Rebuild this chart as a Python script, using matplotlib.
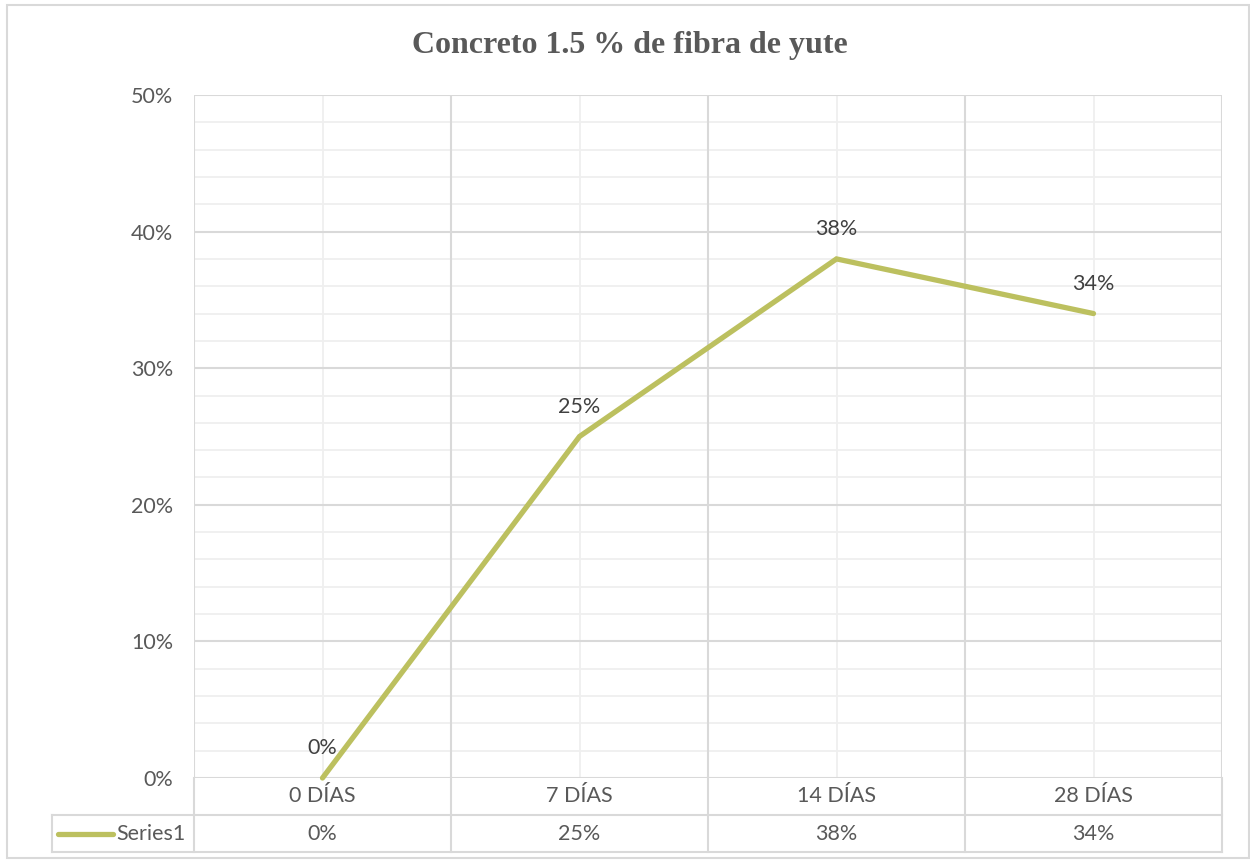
import matplotlib
matplotlib.use("Agg")
import matplotlib.pyplot as plt
from matplotlib.patches import Rectangle
from matplotlib.lines import Line2D
import matplotlib.transforms as mtransforms

# Data
categories = ["0 DÍAS", "7 DÍAS", "14 DÍAS", "28 DÍAS"]
values = [0, 25, 38, 34]          # percent
series_name = "Series1"
y_ticks = [0, 10, 20, 30, 40, 50]
title = "Concreto 1.5 % de fibra de yute"

LINE_COLOR = "#BCC05F"
GRID_MAJOR = "#D9D9D9"
GRID_MINOR = "#EFEFEF"
TEXT_GRAY = "#595959"
LABEL_GRAY = "#404040"
FONT = ["Lato", "DejaVu Sans"]
FS = 15.5

W, H = 1250, 860
fig = plt.figure(figsize=(W / 100, H / 100), dpi=100)
fig.patch.set_facecolor("white")

# outer chart frame
fig.add_artist(Rectangle((7 / W, 2 / H), 1242 / W, 853 / H, transform=fig.transFigure,
                         fill=False, edgecolor=GRID_MAJOR, linewidth=1.5))

left, right = 194 / W, 1222 / W
bottom, top = 1 - 778 / H, 1 - 95 / H
ax = fig.add_axes([left, bottom, right - left, top - bottom])

x = list(range(len(categories)))
ax.set_xlim(-0.5, len(categories) - 0.5)
ax.set_ylim(0, 50)

# gridlines: minor first, then major
for yv in range(0, 51, 2):
    if yv % 10:
        ax.axhline(yv, color=GRID_MINOR, lw=1.3, zorder=0)
for xi in x:
    ax.axvline(xi, color=GRID_MINOR, lw=1.3, zorder=0)
for yv in y_ticks:
    ax.axhline(yv, color=GRID_MAJOR, lw=1.5, zorder=1)
for xb in [i - 0.5 for i in range(len(categories) + 1)]:
    ax.axvline(xb, color=GRID_MAJOR, lw=1.5, zorder=1)

for s in ax.spines.values():
    s.set_visible(False)

ax.set_yticks(y_ticks)
ax.set_yticklabels([f"{v}%" for v in y_ticks], fontsize=FS, color=TEXT_GRAY, family=FONT)
ax.tick_params(axis="y", length=0, pad=15)
ax.set_xticks([])

ax.plot(x, values, color=LINE_COLOR, lw=3.8, solid_capstyle="round",
        solid_joinstyle="miter", zorder=3, clip_on=False)

for xi, v in zip(x, values):
    ax.annotate(f"{v}%", (xi, v), xytext=(0, 21.5), textcoords="offset points",
                ha="center", va="center", fontsize=FS, color=LABEL_GRAY, family=FONT)

fig.text(630 / W, 1 - 45 / H, title, fontsize=23, fontweight="bold", color=TEXT_GRAY,
         family=["Liberation Serif", "DejaVu Serif"], ha="center", va="center")

# data table beneath the plot area
ph = 778 - 95
row_h = 37 / ph
trans = mtransforms.blended_transform_factory(ax.transData, ax.transAxes)
xmin, xmax = -0.5, len(categories) - 0.5
cat_w = 1028 / len(categories)
left_col = xmin - (194 - 52) / cat_w

def hline(x0, x1, y):
    ax.add_line(Line2D([x0, x1], [y, y], transform=trans, color=GRID_MAJOR,
                       lw=1.5, clip_on=False))

def vline(xv, y0, y1):
    ax.add_line(Line2D([xv, xv], [y0, y1], transform=trans, color=GRID_MAJOR,
                       lw=1.5, clip_on=False))

hline(left_col, xmax, -row_h)
hline(left_col, xmax, -2 * row_h)
for xb in [i - 0.5 for i in range(len(categories) + 1)]:
    vline(xb, 0, -2 * row_h)
vline(left_col, -row_h, -2 * row_h)

for xi, c, v in zip(x, categories, values):
    ax.text(xi, -0.5 * row_h, c, transform=trans, ha="center", va="center",
            fontsize=FS, color=TEXT_GRAY, family=FONT)
    ax.text(xi, -1.5 * row_h, f"{v}%", transform=trans, ha="center", va="center",
            fontsize=FS, color=TEXT_GRAY, family=FONT)

# legend key in the table's first column
key_x0 = left_col + 6 / cat_w
key_x1 = left_col + 61 / cat_w
ax.add_line(Line2D([key_x0, key_x1], [-1.5 * row_h] * 2, transform=trans,
                   color=LINE_COLOR, lw=3.8, solid_capstyle="round", clip_on=False))
ax.text(key_x1 + 3 / cat_w, -1.5 * row_h, series_name, transform=trans, ha="left",
        va="center", fontsize=FS, color=TEXT_GRAY, family=FONT)

fig.savefig("out.png", dpi=100, facecolor="white")
